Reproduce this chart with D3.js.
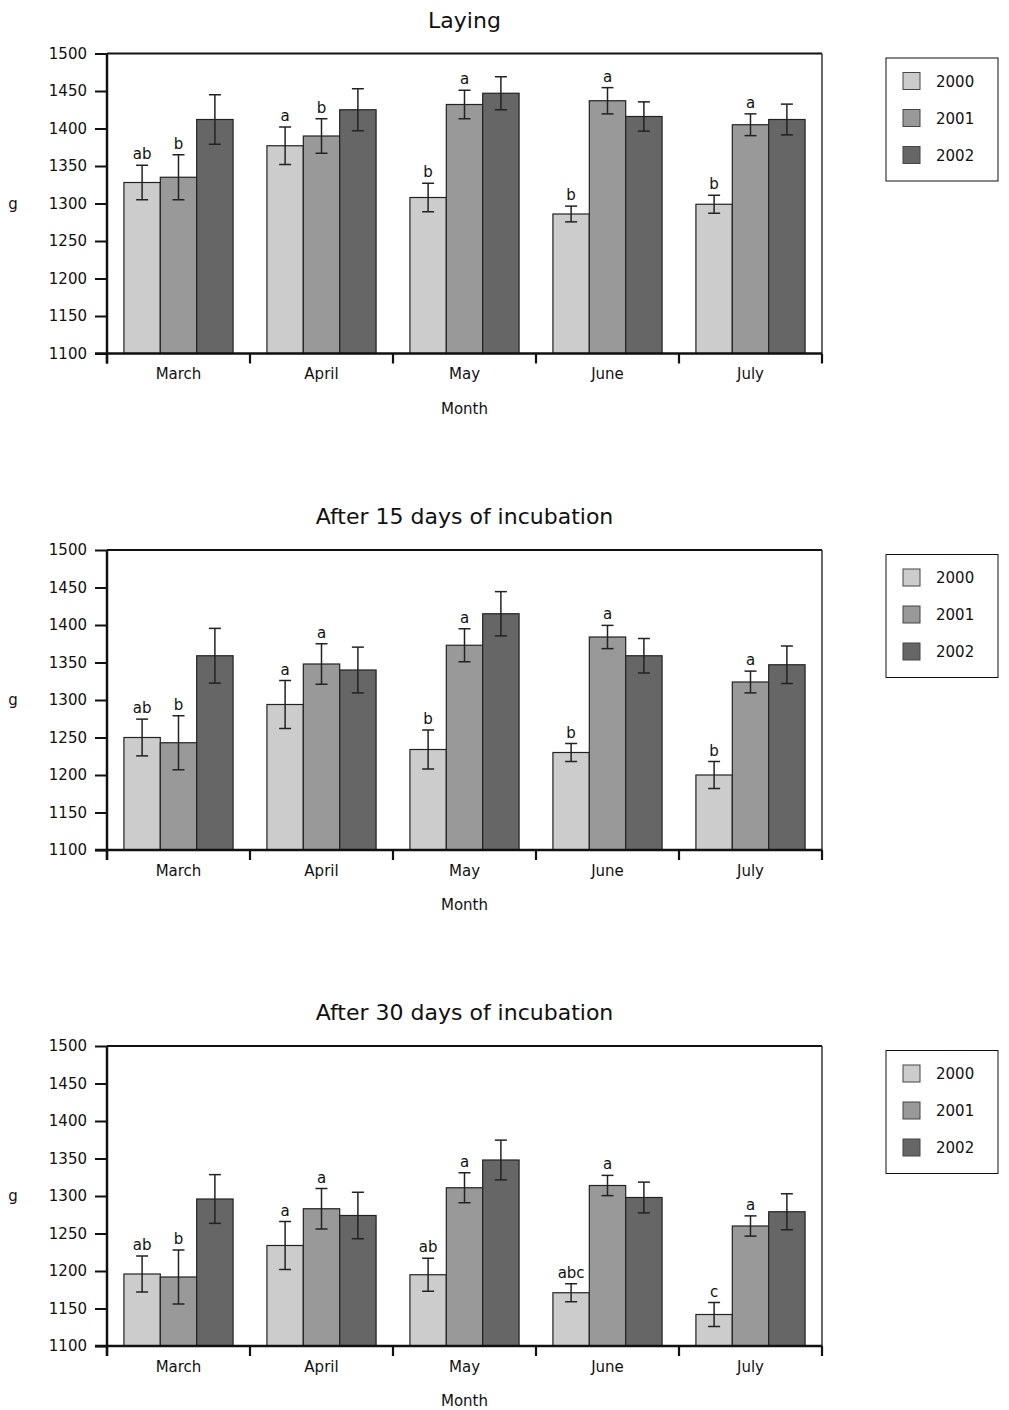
<!DOCTYPE html>
<html>
<head>
<meta charset="utf-8">
<script src="https://cdn.jsdelivr.net/npm/d3@7"></script>
<style>
    body { margin: 0; background: #fff; }
    svg { display: block; font-family: "DejaVu Sans", Verdana, sans-serif; }
</style>
</head>
<body>
<svg id="chart" width="1009" height="1410"></svg>
<script>

const months = ['March', 'April', 'May', 'June', 'July'];
const years = ['2000', '2001', '2002'];
const yearColors = ['#cccccc', '#999999', '#666666'];
const yTicks = [1100, 1150, 1200, 1250, 1300, 1350, 1400, 1450, 1500];

// rows = month, columns = year
const layingMeans = [[1328, 1335, 1412], [1377, 1390, 1425], [1308, 1432, 1447], [1286, 1437, 1416], [1299, 1405, 1412]];
const layingErrors = [[23, 30, 33], [25, 23, 28], [19, 19, 22], [10.5, 17.5, 19.5], [12, 14.5, 20.5]];
const layingLetters = [['ab', 'b', ''], ['a', 'b', ''], ['b', 'a', ''], ['b', 'a', ''], ['b', 'a', '']];

const day15Means = [[1250, 1243, 1359], [1294, 1348, 1340], [1234, 1373, 1415], [1230, 1384, 1359], [1200, 1324, 1347]];
const day15Errors = [[24.5, 36, 36.5], [32, 27, 30.5], [26, 22, 29.5], [12, 15.5, 23], [18, 14.5, 25]];
const day15Letters = [['ab', 'b', ''], ['a', 'a', ''], ['b', 'a', ''], ['b', 'a', ''], ['b', 'a', '']];

const day30Means = [[1196, 1192, 1296], [1234, 1283, 1274], [1195, 1311, 1348], [1171, 1314, 1298], [1142, 1260, 1279]];
const day30Errors = [[24, 36, 32.5], [32, 27, 31], [22, 20, 26.5], [12, 13.5, 20.5], [16, 13.5, 24]];
const day30Letters = [['ab', 'b', ''], ['a', 'a', ''], ['ab', 'a', ''], ['abc', 'a', ''], ['c', 'a', '']];

const panels = [
    {title: 'Laying', top: 53.5, means: layingMeans, errors: layingErrors, letters: layingLetters},
    {title: 'After 15 days of incubation', top: 550, means: day15Means, errors: day15Errors, letters: day15Letters},
    {title: 'After 30 days of incubation', top: 1046, means: day30Means, errors: day30Errors, letters: day30Letters}
];

const plotLeft = 107, plotRight = 822, plotHeight = 300;
const svg = d3.select('#chart');

const xScale = d3.scaleBand()
    .domain(months)
    .range([plotLeft, plotRight])
    .padding(0);

const xYear = d3.scaleBand()
    .domain(years)
    .range([0, xScale.bandwidth()])
    .paddingInner(0)
    .paddingOuter(0.465);

const color = d3.scaleOrdinal().domain(years).range(yearColors);

panels.forEach(p => drawPanel(p));

function drawPanel(p) {

    const g = svg.append('g')
        .attr('transform', `translate(0, ${p.top})`);

    const yScale = d3.scaleLinear()
        .domain([1100, 1500])
        .range([plotHeight, 0]);

    // flatten rows for binding
    const data = [];
    months.forEach((m, i) => {
        years.forEach((yr, j) => {
            data.push({month: m, year: yr, mean: p.means[i][j], err: p.errors[i][j], letter: p.letters[i][j]});
        });
    });

    g.append('text')
        .attr('x', (plotLeft + plotRight) / 2)
        .attr('y', -26)
        .attr('text-anchor', 'middle')
        .style('font-size', '22px')
        .style('fill', '#111')
        .text(p.title);

    g.selectAll('.bar')
        .data(data)
        .join('rect')
            .classed('bar', true)
            .attr('x', d => xScale(d.month) + xYear(d.year))
            .attr('y', d => yScale(d.mean))
            .attr('width', xYear.bandwidth())
            .attr('height', d => yScale(1100) - yScale(d.mean))
            .style('fill', d => color(d.year))
            .style('stroke', '#222')
            .style('stroke-width', 1.2);

    const cx = d => xScale(d.month) + xYear(d.year) + xYear.bandwidth() / 2;

    g.selectAll('.errLine')
        .data(data)
        .join('line')
            .classed('errLine', true)
            .attr('x1', cx)
            .attr('x2', cx)
            .attr('y1', d => yScale(d.mean + d.err))
            .attr('y2', d => yScale(d.mean - d.err))
            .style('stroke', '#222')
            .style('stroke-width', 1.5);

    ['capTop', 'capBottom'].forEach((cls, k) => {
        g.selectAll('.' + cls)
            .data(data)
            .join('line')
                .classed(cls, true)
                .attr('x1', d => cx(d) - 6)
                .attr('x2', d => cx(d) + 6)
                .attr('y1', d => yScale(k === 0 ? d.mean + d.err : d.mean - d.err))
                .attr('y2', d => yScale(k === 0 ? d.mean + d.err : d.mean - d.err))
                .style('stroke', '#222')
                .style('stroke-width', 1.5);
    });

    g.selectAll('.sigLetter')
        .data(data.filter(d => d.letter !== ''))
        .join('text')
            .classed('sigLetter', true)
            .attr('x', cx)
            .attr('y', d => yScale(d.mean + d.err) - 6)
            .attr('text-anchor', 'middle')
            .style('font-size', '15px')
            .style('fill', '#111')
            .text(d => d.letter);

    // frame: top + right
    g.append('line')
        .attr('x1', plotLeft).attr('x2', plotRight)
        .attr('y1', 0).attr('y2', 0)
        .style('stroke', '#111').style('stroke-width', 2.2);
    g.append('line')
        .attr('x1', plotRight).attr('x2', plotRight)
        .attr('y1', 0).attr('y2', plotHeight)
        .style('stroke', '#333').style('stroke-width', 1.5);

    const yAxisGroup = g.append('g')
        .attr('transform', `translate(${plotLeft}, 0)`)
        .call(d3.axisLeft(yScale).tickValues(yTicks).tickSize(12).tickPadding(8).tickFormat(d3.format('d')));
    yAxisGroup.select('.domain').remove();
    yAxisGroup.selectAll('.tick line').style('stroke', '#111').style('stroke-width', 2);
    yAxisGroup.selectAll('.tick text')
        .style('font-size', '15px')
        .style('font-family', '"DejaVu Sans", Verdana, sans-serif')
        .style('fill', '#111');

    const xAxisGroup = g.append('g')
        .attr('transform', `translate(0, ${plotHeight})`)
        .call(d3.axisBottom(xScale).tickSize(0).tickPadding(15));
    xAxisGroup.select('.domain').remove();
    xAxisGroup.selectAll('.tick text')
        .style('font-size', '15px')
        .style('font-family', '"DejaVu Sans", Verdana, sans-serif')
        .style('fill', '#111');

    // ticks on the band boundaries
    const boundaries = months.map(m => xScale(m)).concat([plotRight]);
    g.selectAll('.boundaryTick')
        .data(boundaries)
        .join('line')
            .classed('boundaryTick', true)
            .attr('x1', d => d).attr('x2', d => d)
            .attr('y1', plotHeight).attr('y2', plotHeight + 10)
            .style('stroke', '#111').style('stroke-width', 2.2);

    // axis lines
    g.append('line')
        .attr('x1', plotLeft).attr('x2', plotLeft)
        .attr('y1', 0).attr('y2', plotHeight + 10)
        .style('stroke', '#111').style('stroke-width', 2.5);
    g.append('line')
        .attr('x1', plotLeft - 12).attr('x2', plotRight)
        .attr('y1', plotHeight).attr('y2', plotHeight)
        .style('stroke', '#111').style('stroke-width', 2.5);

    g.append('text')
        .attr('x', (plotLeft + plotRight) / 2)
        .attr('y', plotHeight + 60)
        .attr('text-anchor', 'middle')
        .style('font-size', '15px')
        .style('fill', '#111')
        .text('Month');

    g.append('text')
        .attr('x', 13)
        .attr('y', plotHeight / 2 + 5)
        .attr('text-anchor', 'middle')
        .style('font-size', '15px')
        .style('fill', '#111')
        .text('g');

    // legend
    const legend = g.append('g')
        .attr('transform', 'translate(886, 4.5)');

    legend.append('rect')
        .attr('width', 112)
        .attr('height', 123)
        .style('fill', '#fff')
        .style('stroke', '#111')
        .style('stroke-width', 1);

    const rows = legend.selectAll('.legendRow')
        .data(years)
        .join('g')
            .classed('legendRow', true)
            .attr('transform', (d, i) => `translate(0, ${23 + i * 37})`);

    rows.append('rect')
        .attr('x', 17)
        .attr('y', -8.5)
        .attr('width', 17)
        .attr('height', 17)
        .style('fill', d => color(d))
        .style('stroke', '#444')
        .style('stroke-width', 1);

    rows.append('text')
        .attr('x', 50)
        .attr('y', 5.5)
        .style('font-size', '15px')
        .style('fill', '#111')
        .text(d => d);
}

</script>
</body>
</html>
